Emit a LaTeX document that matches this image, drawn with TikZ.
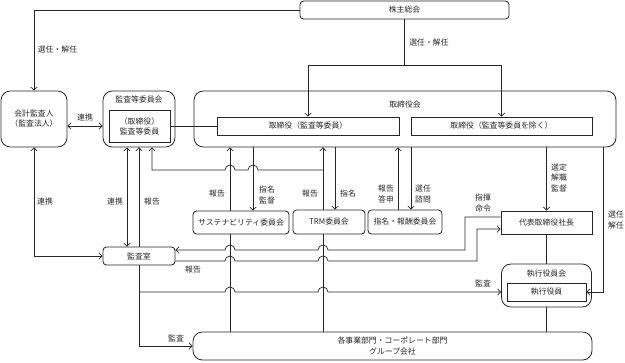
\documentclass[tikz,border=0pt]{standalone}
\usepackage{fontspec}
\setmainfont{Noto Sans CJK JP}
\usetikzlibrary{arrows.meta}

\begin{document}
\begin{tikzpicture}[
  x=0.03cm, y=-0.03cm,
  >={Straight Barb[length=0.9mm,width=1.9mm]},
  font=\fontsize{6.7}{8.6}\selectfont, color=black!85, line width=0.6pt,
  box/.style={draw,rounded corners=3pt,inner sep=0pt,align=center,line width=0.7pt},
  big/.style={draw,rounded corners=8pt,inner sep=0pt,align=center,line width=0.7pt},
  sq/.style={draw,inner sep=0pt,align=center,line width=0.7pt},
  lbl/.style={align=center,inner sep=0pt},
  arr/.style={->},
  arr2/.style={<->},
  hopL/.style 2 args={insert path={-- (#1+5,#2) arc[start angle=0,end angle=180,radius=0.15cm]}},
  hopR/.style 2 args={insert path={-- (#1-5,#2) arc[start angle=180,end angle=0,radius=0.15cm]}},
]
\useasboundingbox (0,0) rectangle (625,362);

% ---- boxes ----
\node[box,minimum width=6.27cm,minimum height=0.54cm] (gm) at (404.5,10) {株主総会};
\node[big,minimum width=1.98cm,minimum height=1.68cm] (aud) at (34,119) {会計監査人\\（監査法人）};
\node[big,minimum width=2.16cm,minimum height=1.68cm] (acm) at (139,119) {};
\node[lbl] (acmT) at (139,100) {監査等委員会};
\node[sq,minimum width=1.83cm,minimum height=0.96cm] (acmin) at (139.5,126) {（取締役）\\監査等委員};
\node[big,minimum width=12.66cm,minimum height=1.68cm] (bod) at (405,119) {};
\node[lbl] (bodT) at (405,105) {取締役会};
\node[sq,minimum width=5.46cm,minimum height=0.54cm] (dirA) at (308,126) {取締役（監査等委員）};
\node[sq,minimum width=5.43cm,minimum height=0.54cm] (dirB) at (501.5,126) {取締役（監査等委員を除く）};

\node[box,minimum width=2.88cm,minimum height=0.69cm] (sus) at (241,222.5) {サステナビリティ委員会};
\node[box,minimum width=2.16cm,minimum height=0.72cm] (trm) at (329,222) {TRM委員会};
\node[box,minimum width=2.22cm,minimum height=0.72cm] (nom) at (405,222) {指名・報酬委員会};
\node[sq,minimum width=2.73cm,minimum height=0.69cm] (ceo) at (546.5,222.5) {代表取締役社長};
\node[box,minimum width=2.16cm,minimum height=0.54cm] (ia) at (139,256) {監査室};
\node[big,minimum width=2.7cm,minimum height=1.29cm] (ecm) at (546.5,285.5) {};
\node[lbl] (ecmT) at (546.5,274) {執行役員会};
\node[sq,minimum width=2.37cm,minimum height=0.54cm] (eo) at (546.5,292) {執行役員};
\node[big,minimum width=11.97cm,minimum height=0.84cm] (bu) at (392.5,346) {各事業部門・コーポレート部門\\グループ会社};

% feet of the lines under the board
\foreach \n/\x in {sUp/230,sDn/253,tUp/323,tDn/335,nUp/398,nDn/411,cDn/546.5,eDn/603}
  \coordinate (\n) at (\x,0 |- bod.south);

% ---- shareholders ----
\draw[arr] (gm.west) -| (aud.north);
\coordinate (split) at (gm.south |- 0,65);
\draw (gm.south) -- (split);
\draw[arr] (split) -| (dirA.north);
\draw[arr] (split) -| (dirB.north);

% ---- board and audit committee ----
\draw[arr2] (aud.east |- acmin) -- (acm.west |- acmin);
\draw (acmin.east) -- (dirA.west);
\foreach \c/\u/\d in {sus/sUp/sDn, trm/tUp/tDn, nom/nUp/nDn}{
  \draw[arr] (\c.north -| \u) -- (\u);
  \draw[arr] (\d) -- (\c.north -| \d);
}
\draw[arr] (cDn) -- (ceo.north);
\draw[arr] (eDn) |- (eo.east);
\draw (ceo.south) -- (ecm.north);
\draw (ecm.south) -- (bu.north -| ecm.south);
\draw (sus.south -| sUp) -- (bu.north -| sUp);
\draw (trm.south -| tUp) -- (bu.north -| tUp);
\draw[arr] (tUp |- 0,170) [hopL={253}{170}] [hopL={230}{170}] -| ([xshift=0.39cm]acm.south);

% ---- audit office ----
\draw[arr2] (aud.south) |- (ia.west);
\draw[arr2] ([xshift=-0.36cm]acm.south) -- ([xshift=-0.36cm]ia.north);
\draw[arr] (ia.north) -- (acm.south);
\draw[arr] (ia.south) |- (bu.west);
\draw[arr] (ceo.west |- 0,217) -| (465,250) [hopL={323}{250}] [hopL={230}{250}] -- (ia.east |- 0,250);
\draw[arr] (ia.east |- 0,261) [hopR={230}{261}] [hopR={323}{261}] -| (477,229) -- (ceo.west |- 0,229);
\draw[arr] (ia.south |- eo.west) [hopR={230}{292}] [hopR={323}{292}] -- (ecm.west |- eo.west);

% ---- labels ----
\foreach \x/\y/\t [count=\i] in {57.5/50/選任・解任, 429/43/選任・解任, 85/118/連携,
    45/202/連携, 115/202/連携, 152/202/報告, 217/194/報告, 267/195/{指名\\監督},
    310/194/報告, 348/194/指名, 386/194/{報告\\答申}, 423/194/{選任\\諮問},
    559/178/{選定\\解職\\監督}, 616/220/{選任\\解任}, 483/203/{指揮\\命令},
    193/270/報告, 176/338/監査, 483/283/監査}
  \node[lbl] (lab\i) at (\x,\y) {\t};
\end{tikzpicture}
\end{document}
